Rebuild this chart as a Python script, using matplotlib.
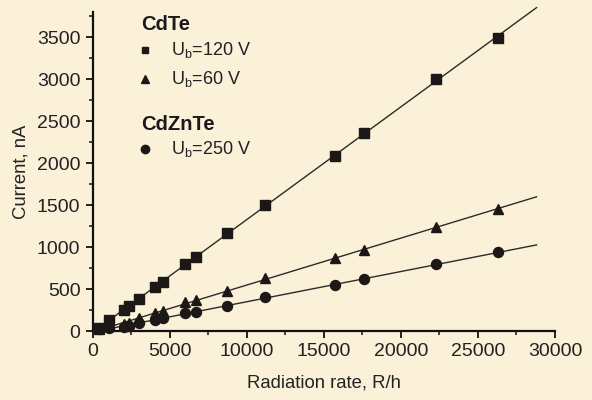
import numpy as np
import matplotlib
matplotlib.use("Agg")
import matplotlib.pyplot as plt
from matplotlib.ticker import MultipleLocator

plt.rcParams['font.family'] = ['Liberation Sans', 'DejaVu Sans']
plt.rcParams['mathtext.fontset'] = 'custom'
plt.rcParams['mathtext.rm'] = 'Liberation Sans'
plt.rcParams['mathtext.it'] = 'Liberation Sans'

# Data
rate = [400, 1050, 1990, 2310, 3010, 4050, 4520, 6000, 6720, 8730, 11200, 15700, 17600, 22290, 26320]
cdte_120 = [32, 131, 250, 301, 381, 527, 583, 798, 887, 1170, 1504, 2087, 2361, 2996, 3492]
cdte_60 = [20, 55, 83, 99, 151, 218, 234, 349, 369, 480, 627, 865, 964, 1242, 1452]
czt_250 = [20, 32, 44, 60, 99, 131, 155, 211, 230, 301, 401, 548, 619, 794, 937]

x_fit_end = 28800

bg = '#FBF0D8'
fig = plt.figure(figsize=(5.92, 4.0), dpi=100, facecolor=bg)
ax = fig.add_axes([0.157, 0.1725, 0.7805, 0.7975], facecolor=bg)

mk = '#1c1818'
lc = '#2e2a28'
xs = np.array([0, x_fit_end])
for y, m, ms in [(cdte_120, 's', 6.5), (cdte_60, '^', 7.0), (czt_250, 'o', 7.2)]:
    k, b = np.polyfit(rate, y, 1)
    ax.plot(xs, k * xs + b, color=lc, lw=1.0, clip_on=False, zorder=2)
    ax.plot(rate, y, linestyle='none', marker=m, ms=ms, color=mk, clip_on=False, zorder=3)

ax.set_xlim(0, 30000)
ax.set_ylim(0, 3800)
ax.xaxis.set_major_locator(MultipleLocator(5000))
ax.xaxis.set_minor_locator(MultipleLocator(2500))
ax.yaxis.set_major_locator(MultipleLocator(500))
ax.yaxis.set_minor_locator(MultipleLocator(250))
for s in ['top', 'right']:
    ax.spines[s].set_visible(False)
for s in ['left', 'bottom']:
    ax.spines[s].set_linewidth(1.6)
    ax.spines[s].set_color('#111111')
ax.tick_params(which='major', direction='out', length=5, width=1.3, labelsize=14, colors='#111111', pad=4)
ax.tick_params(which='minor', direction='out', length=3, width=1.1, colors='#111111')
ax.tick_params(labelcolor='#222222')
ax.set_xlabel('Radiation rate, R/h', fontsize=13.3, color='#222222', labelpad=10)
ax.set_ylabel('Current, nA', fontsize=13.3, color='#222222', labelpad=5)

# Custom legend (figure pixel coordinates converted)
W, H = 592.0, 400.0
def fx(px): return px / W
def fy(py): return 1 - py / H

fig.text(fx(141), fy(25), 'CdTe', fontsize=14.5, fontweight='bold', va='center', ha='left', color='#1a1a1a')
fig.text(fx(141), fy(124), 'CdZnTe', fontsize=14.5, fontweight='bold', va='center', ha='left', color='#1a1a1a')
entries = [('s', 5.0, 50, r'U$_{\rm b}$=120 V'), ('^', 5.5, 79, r'U$_{\rm b}$=60 V'), ('o', 6.0, 149, r'U$_{\rm b}$=250 V')]
for m, ms, py, lab in entries:
    fig.lines.append(plt.Line2D([fx(145)], [fy(py)], marker=m, ms=ms, color=mk, linestyle='none', transform=fig.transFigure))
    fig.text(fx(171), fy(py), lab, fontsize=13, va='center', ha='left', color='#222222')

fig.savefig('out.png', dpi=100, facecolor=bg)
